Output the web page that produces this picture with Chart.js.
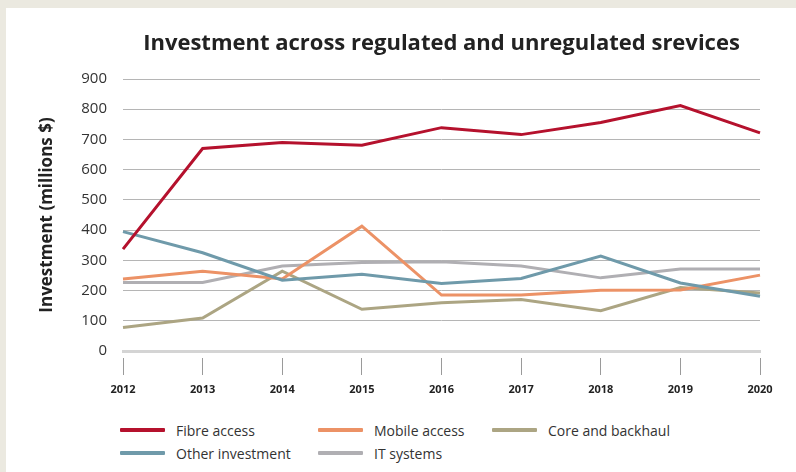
<!DOCTYPE html>
<html>
<head>
<meta charset="utf-8">
<script src="https://cdn.jsdelivr.net/npm/chart.js@4/dist/chart.umd.min.js"></script>
<style>
  html, body { margin: 0; padding: 0; }
  body { width: 796px; height: 472px; background: #ebe9e0; position: relative; overflow: hidden; font-family: "Open Sans", sans-serif; }
  #panel { position: absolute; left: 6px; top: 8px; width: 790px; height: 464px; background: #ffffff; }
  #wrap { position: absolute; left: 0; top: 0; width: 796px; height: 410px; }
  #legend { position: absolute; left: 120px; top: 419px; display: grid; grid-template-columns: 198px 174px 200px; row-gap: 1px; }
  .item { display: flex; align-items: center; height: 22px; font-size: 14px; color: #333; }
  .swatch { width: 45px; height: 4px; margin-right: 11px; border-radius: 1px; }
</style>
</head>
<body>
<div id="panel"></div>
<div id="wrap"><canvas id="chart" width="796" height="410"></canvas></div>
<div id="legend"></div>
<script>
const years = ['2012', '2013', '2014', '2015', '2016', '2017', '2018', '2019', '2020'];
const fibreAccess = [337, 670, 690, 681, 739, 716, 756, 812, 722];
const mobileAccess = [238, 264, 238, 413, 185, 185, 201, 202, 251];
const coreBackhaul = [78, 109, 264, 138, 160, 170, 133, 210, 192];
const otherInvestment = [395, 325, 234, 254, 223, 240, 314, 225, 181];
const itSystems = [227, 227, 281, 293, 295, 281, 242, 271, 271];
const yTicks = [0, 100, 200, 300, 400, 500, 600, 700, 800, 900];

const series = [
  { label: 'Fibre access', data: fibreAccess, color: '#b5112d' },
  { label: 'Mobile access', data: mobileAccess, color: '#ec9266' },
  { label: 'Core and backhaul', data: coreBackhaul, color: '#aca583' },
  { label: 'Other investment', data: otherInvestment, color: '#6f9aaa' },
  { label: 'IT systems', data: itSystems, color: '#b0afb3' }
];

// drawing order: grey lines underneath, fibre on top
const drawOrder = { 'Fibre access': 0, 'Mobile access': 2, 'Core and backhaul': 3, 'Other investment': 1, 'IT systems': 4 };

const datasets = series.map(s => ({
  label: s.label,
  data: s.data,
  borderColor: s.color,
  backgroundColor: s.color,
  borderWidth: 3,
  pointRadius: 0,
  tension: 0,
  fill: false,
  order: drawOrder[s.label]
}));

new Chart(document.getElementById('chart'), {
  type: 'line',
  data: { labels: years, datasets },
  options: {
    responsive: false,
    animation: false,
    events: [],
    layout: { padding: { left: 0, right: 36, top: 0, bottom: 0 } },
    plugins: {
      legend: { display: false },
      tooltip: { enabled: false },
      title: {
        display: true,
        fullSize: false,
        text: 'Investment across regulated and unregulated srevices',
        color: '#222',
        font: { family: 'Open Sans', size: 22, weight: 'bold', lineHeight: 1.2 },
        padding: { top: 31, bottom: 21.6 }
      }
    },
    scales: {
      x: {
        offset: false,
        afterFit: s => { s.height = 59; },
        border: { display: true, color: '#d4d4d4', width: 3 },
        grid: {
          drawOnChartArea: false,
          drawTicks: true,
          tickLength: 24,
          tickColor: '#9a9a9a',
          tickWidth: 1,
          tickBorderDash: [0, 5, 19, 100]
        },
        ticks: {
          color: '#222',
          padding: 8,
          maxRotation: 0,
          font: { family: 'Open Sans', size: 11, weight: 'bold' }
        }
      },
      y: {
        min: 0,
        max: 900,
        afterFit: s => { s.width = 123; },
        afterBuildTicks: s => { s.ticks = yTicks.map(v => ({ value: v })); },
        border: { display: false },
        grid: {
          drawTicks: false,
          color: ctx => (ctx.tick && ctx.tick.value === 0) ? 'rgba(0,0,0,0)' : '#b5b5b5',
          lineWidth: 1
        },
        ticks: {
          color: '#333',
          padding: 16,
          font: { family: 'Open Sans', size: 15 }
        },
        title: {
          display: true,
          text: 'Investment (millions $)',
          color: '#222',
          font: { family: 'Open Sans', size: 17, weight: 'bold', lineHeight: 1.2 },
          padding: { top: 37, bottom: 0 }
        }
      }
    }
  }
});

// legend built from the same series list
const legendEl = document.getElementById('legend');
series.forEach(s => {
  const item = document.createElement('div');
  item.className = 'item';
  const sw = document.createElement('span');
  sw.className = 'swatch';
  sw.style.background = s.color;
  const txt = document.createElement('span');
  txt.textContent = s.label;
  item.appendChild(sw);
  item.appendChild(txt);
  legendEl.appendChild(item);
});
</script>
</body>
</html>
